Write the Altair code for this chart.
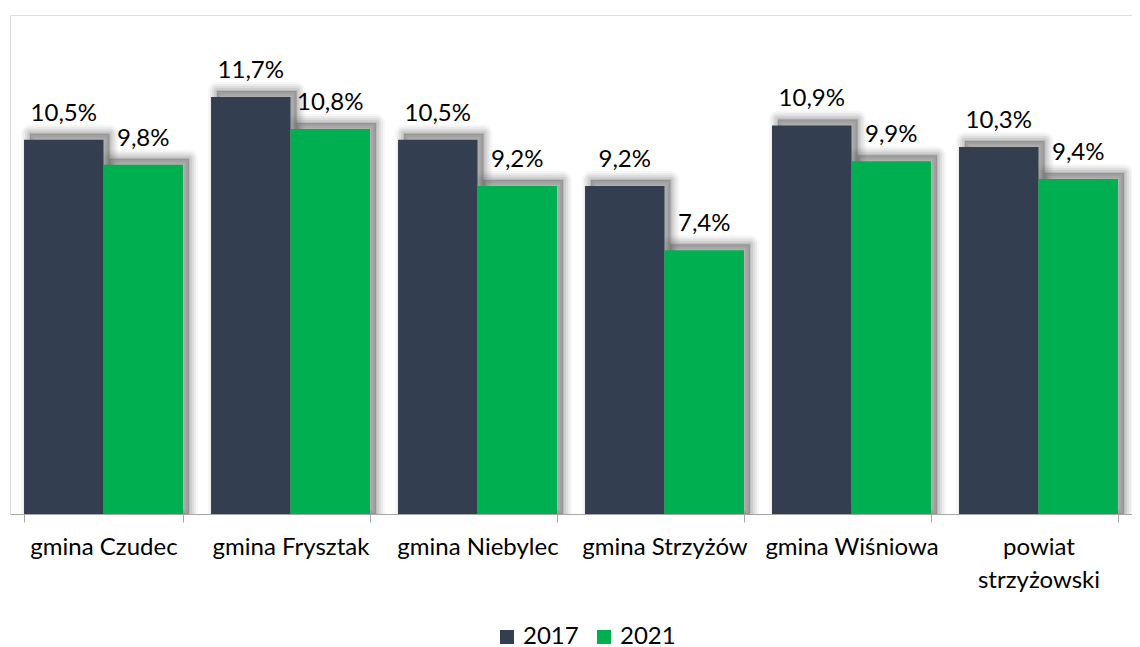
import altair as alt
import pandas as pd

categories = ["gmina Czudec", "gmina Frysztak", "gmina Niebylec", "gmina Strzyżów", "gmina Wiśniowa", "powiat strzyżowski"]
series = ["2017", "2021"]
values_2017 = [10.5, 11.7, 10.5, 9.2, 10.9, 10.3]
values_2021 = [9.8, 10.8, 9.2, 7.4, 9.9, 9.4]
colors = ["#333F50", "#00B050"]

P_INNER = 0.15
rows = []
for i, (c, a, b) in enumerate(zip(categories, values_2017, values_2021)):
    for k, (yr, v) in enumerate([("2017", a), ("2021", b)]):
        start = i + P_INNER / 2 + k * (1 - P_INNER) / 2
        rows.append({"cat": c, "year": yr, "value": v, "xs": start, "xe": start + (1 - P_INNER) / 2})
df = pd.DataFrame(rows)

FONT = "Lato"
FS = 24

x = alt.X("cat:N", sort=categories, title=None,
          scale=alt.Scale(paddingInner=P_INNER, paddingOuter=P_INNER / 2),
          axis=alt.Axis(labelAngle=0, labelFontSize=FS, labelFont=FONT, labelColor="#000000",
                        labelPadding=13, labelLineHeight=33, tickBand="extent",
                        tickColor="#a6a6a6", tickSize=8, domainColor="#a6a6a6",
                        labelExpr="datum.label == 'powiat strzyżowski' ? ['powiat', 'strzyżowski'] : datum.label"))
y = alt.Y("value:Q", title=None, scale=alt.Scale(domain=[0, 14], nice=False),
          axis=alt.Axis(values=[0, 2, 4, 6, 8, 10, 12, 14], labels=False, ticks=False, domain=False,
                        gridColor="#a6a6a6", gridWidth=1))
xo = alt.XOffset("year:N", sort=series)

base = alt.Chart(df).encode(x=x, y=y, xOffset=xo)

sbase = alt.Chart(df).encode(
    x=alt.X("xs:Q", scale=alt.Scale(domain=[0, 6], nice=False, zero=False), axis=None),
    x2="xe:Q",
    y=alt.Y("value:Q", scale=alt.Scale(domain=[0, 14], nice=False), axis=None),
    y2=alt.datum(0),
)
shadows = []
for sw, op in [(18, 0.05), (14, 0.07), (10, 0.09), (6, 0.12), (2, 0.15)]:
    shadows.append(sbase.mark_bar(fill="#595959", fillOpacity=0, stroke="#595959", strokeWidth=sw,
                                  strokeOpacity=op, strokeJoin="round", xOffset=6, x2Offset=6,
                                  yOffset=-6, clip=True))
shadows.append(sbase.mark_bar(fill="#595959", fillOpacity=0.4, strokeWidth=0,
                              xOffset=6, x2Offset=6, yOffset=-6, clip=True))

bars = base.mark_bar().encode(
    color=alt.Color("year:N", sort=series, scale=alt.Scale(domain=series, range=colors),
                    legend=alt.Legend(orient="none", legendX=485, legendY=610, direction="horizontal",
                                      title=None, symbolType="square", symbolSize=196, padding=0,
                                      symbolStrokeWidth=0, labelFontSize=FS, labelFont=FONT,
                                      labelColor="#000000", columnPadding=13, labelOffset=4))
)

text = base.transform_calculate(
    lbl="replace(format(datum.value, '.1f'), '.', ',') + '%'"
).mark_text(fontSize=FS, font=FONT, color="#000000", dy=-26, baseline="middle").encode(text="lbl:N")

shadow_layer = alt.layer(*shadows)
main_layer = alt.layer(bars, text)

chart = alt.layer(shadow_layer, main_layer).resolve_scale(x="independent").properties(
    width=1122, height=499,
    padding={"left": 2, "top": 7, "right": 0, "bottom": 133},
    autosize=alt.AutoSizeParams(type="none"),
).configure_view(stroke=None).configure(background="#ffffff")

chart.save("out.html", embed_options={"renderer": "svg", "actions": False})
